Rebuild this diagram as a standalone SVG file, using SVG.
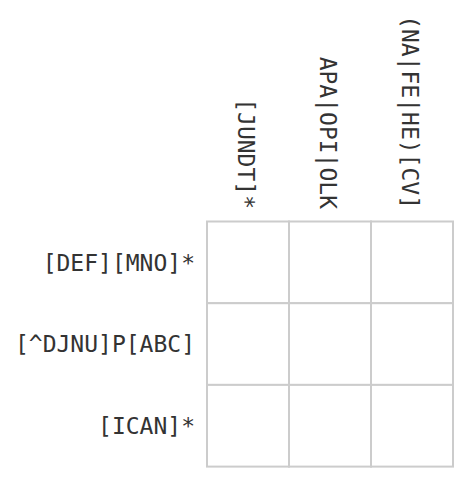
<svg xmlns="http://www.w3.org/2000/svg" width="470" height="482" viewBox="0 0 470 482">
<style>
.lbl{font-family:"DejaVu Sans Mono","Liberation Mono",monospace;font-size:23px;fill:#333;text-anchor:end}
.cell{fill:#fff;stroke:#ccc;stroke-width:2}
</style>
<rect width="470" height="482" fill="#fff"/>
<g id="col-labels">
<text class="lbl" transform="translate(237.5,209) rotate(90)">[JUNDT]*</text>
<text class="lbl" transform="translate(319.5,209) rotate(90)">APA|OPI|OLK</text>
<text class="lbl" transform="translate(401.5,209) rotate(90)">(NA|FE|HE)[CV]</text>
</g>
<g id="row-labels">
<text class="lbl" x="195" y="270.6">[DEF][MNO]*</text>
<text class="lbl" x="195" y="352.2">[^DJNU]P[ABC]</text>
<text class="lbl" x="195" y="434">[ICAN]*</text>
</g>
<g id="grid">
<rect id="c00" class="cell" x="207" y="221.5" width="82" height="81.7"/>
<rect id="c01" class="cell" x="289" y="221.5" width="82" height="81.7"/>
<rect id="c02" class="cell" x="371" y="221.5" width="82" height="81.7"/>
<rect id="c10" class="cell" x="207" y="303.2" width="82" height="81.7"/>
<rect id="c11" class="cell" x="289" y="303.2" width="82" height="81.7"/>
<rect id="c12" class="cell" x="371" y="303.2" width="82" height="81.7"/>
<rect id="c20" class="cell" x="207" y="384.9" width="82" height="81.7"/>
<rect id="c21" class="cell" x="289" y="384.9" width="82" height="81.7"/>
<rect id="c22" class="cell" x="371" y="384.9" width="82" height="81.7"/>
</g>
</svg>
